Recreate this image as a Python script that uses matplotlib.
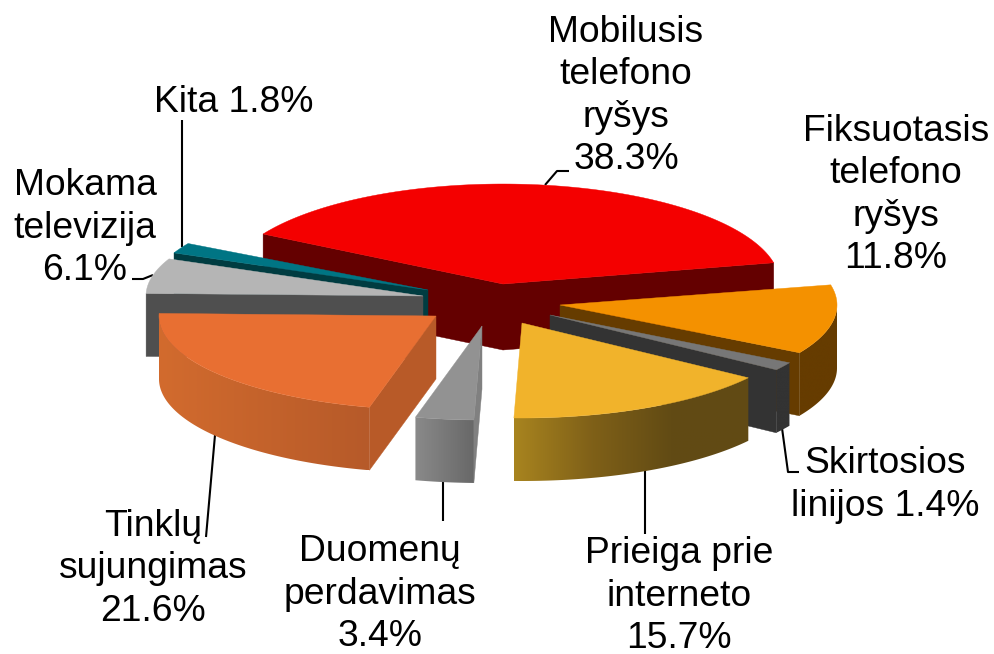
"""Exploded 3D pie of telecom revenue shares, drawn with flat patches."""
import matplotlib
matplotlib.use("Agg")
import matplotlib.pyplot as plt
from matplotlib.colors import to_rgb
from matplotlib.patches import Polygon
import numpy as np

plt.rcParams["font.family"] = ["Liberation Sans", "DejaVu Sans"]

CATEGORIES = ["Mobilusis\ntelefono\nryšys", "Fiksuotasis\ntelefono\nryšys", "Skirtosios\nlinijos",
              "Prieiga prie\ninterneto", "Duomenų\nperdavimas", "Tinklų\nsujungimas",
              "Mokama\ntelevizija", "Kita"]
VALUES = [38.3, 11.8, 1.4, 15.7, 3.4, 21.6, 6.1, 1.8]
SEPARATORS = ["\n", "\n", " ", "\n", "\n", "\n", "\n", " "]

TOP_COLORS = ["#f40000", "#f49100", "#777777", "#f1b32b", "#929292", "#e86f32", "#b5b5b5", "#007584"]
SIDE_COLORS = ["#640000", "#663c00", "#333333", "#6a5016", "#808080", "#b85a28", "#4f4f4f", "#003c41"]
# outer wall colours across the rim, left to right
WALL_GRADIENT = [["#640000", "#640000"], ["#663c00", "#663c00"], ["#333333", "#333333"],
                 ["#a8841f", "#7f6018", "#624b14", "#614a14"], ["#8a8a8a", "#686868"],
                 ["#d26b2e", "#b65a29"], ["#4f4f4f", "#4f4f4f"], ["#003c41", "#003c41"]]

TIPS = [(503, 284), (560, 305), (550, 315), (522, 323), (482, 326), (436, 316), (423, 296), (428, 290)]
RADII_Y = [100, 95, 95, 95, 94, 94, 93, 93]
DEPTHS = [66, 63, 63, 63, 63, 63, 63, 63]
RADIUS_X = 277
START_ANGLE = -60
DRAW_ORDER = [0, 7, 6, 1, 2, 3, 5, 4]

LABEL_POS = [(626, 96), (896, 195), (885, 485), (679, 596), (380, 594), (153, 569), (85, 228), (234, 103)]
LEADERS = [[(545, 185), (557, 171), (569, 171)],
           [(782, 428), (788, 472), (799, 472)],
           [(645, 468), (645, 534)],
           [(443, 482), (443, 521)],
           [(215, 435), (206, 537)],
           [(132, 279), (143, 279), (153, 275)],
           [(182, 120), (182, 247)]]


def rim(i, theta):
    """Screen position of the rim of slice i at angle theta (degrees clockwise from top)."""
    t = np.radians(theta)
    return TIPS[i][0] + RADIUS_X * np.sin(t), TIPS[i][1] - RADII_Y[i] * np.cos(t)


def draw_wall(ax, i, lo, hi):
    """Outer wall: a horizontal gradient image clipped to the wall outline."""
    xs, ys = rim(i, np.linspace(lo, hi, 120))
    depth = DEPTHS[i]
    outline = list(zip(xs, ys)) + list(zip(xs[::-1], ys[::-1] + depth))
    stops = np.array([to_rgb(c) for c in WALL_GRADIENT[i]])
    pos = np.linspace(0, 1, len(stops))
    grid = np.linspace(0, 1, 256)
    row = np.stack([np.interp(grid, pos, stops[:, c]) for c in range(3)], axis=1)
    patch = Polygon(outline, fc="none", ec="none", transform=ax.transData)
    ax.add_patch(patch)
    im = ax.imshow(row[np.newaxis, :, :], extent=[xs.min(), xs.max(), ys.max() + depth, ys.min()],
                   aspect="auto", interpolation="bilinear", zorder=1)
    im.set_clip_path(patch)
    return im


def draw_slice(ax, i, a, b, z):
    tip = TIPS[i]
    depth = DEPTHS[i]

    # radial side faces that look towards the viewer
    for theta, visible in ((a, np.sin(np.radians(a)) < 0), (b, np.sin(np.radians(b)) > 0)):
        if visible:
            x, y = rim(i, theta)
            ax.add_patch(Polygon([tip, (x, y), (x, y + depth), (tip[0], tip[1] + depth)],
                                 fc=SIDE_COLORS[i], ec=SIDE_COLORS[i], lw=0.3, zorder=z))

    lo, hi = max(a, 90), min(b, 270)
    if lo < hi:
        draw_wall(ax, i, lo, hi).set_zorder(z + 0.1)

    # top face
    xs, ys = rim(i, np.linspace(a, b, 120))
    ax.add_patch(Polygon([tip] + list(zip(xs, ys)), fc=TOP_COLORS[i], ec=TOP_COLORS[i], lw=0.3,
                         zorder=z + 0.2))


fig = plt.figure(figsize=(9.94, 6.54), dpi=100)
ax = fig.add_axes([0, 0, 1, 1])

edges = START_ANGLE + np.concatenate([[0], np.cumsum(VALUES)]) / sum(VALUES) * 360
for z, i in enumerate(DRAW_ORDER, start=1):
    draw_slice(ax, i, edges[i], edges[i + 1], z)

ax.set_xlim(0, 994)
ax.set_ylim(654, 0)
ax.axis("off")

for pts in LEADERS:
    ax.plot(*zip(*pts), color="black", lw=1.5, solid_capstyle="butt", zorder=0.5)

for cat, val, sep, pos in zip(CATEGORIES, VALUES, SEPARATORS, LABEL_POS):
    ax.text(pos[0], pos[1], f"{cat}{sep}{val:.1f}%", fontsize=26.8, ha="center", va="center",
            multialignment="center", linespacing=1.27, color="black", zorder=20)

fig.savefig("out.png", dpi=100)
